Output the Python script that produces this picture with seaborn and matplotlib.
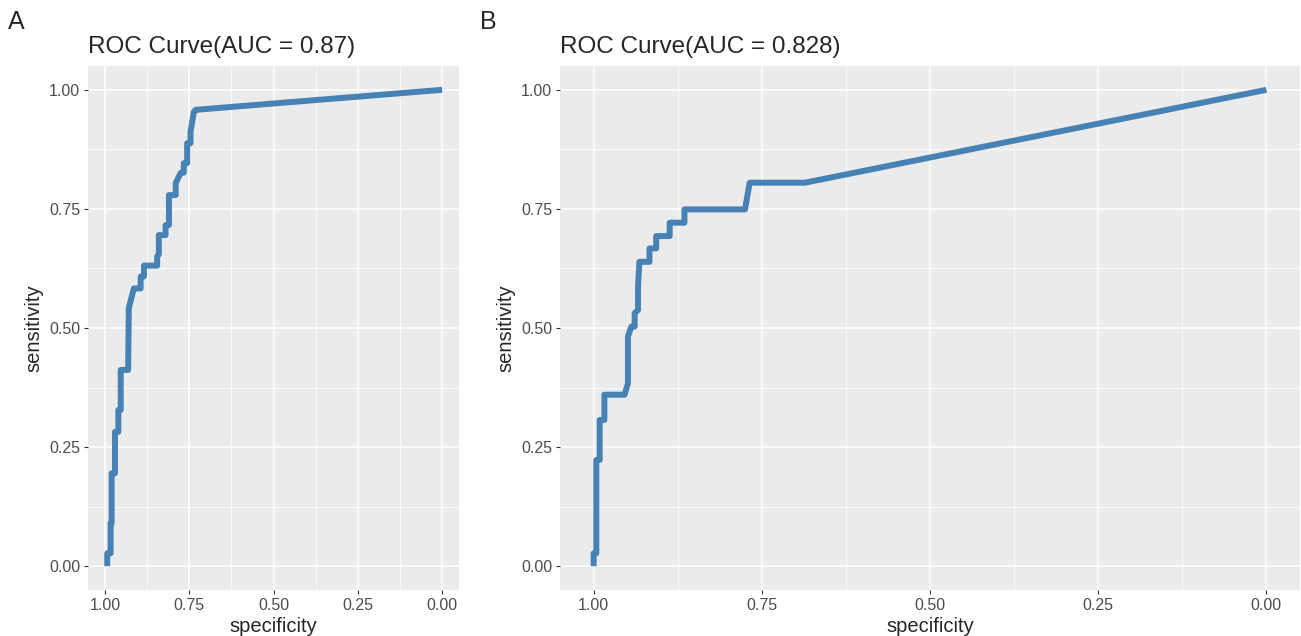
import matplotlib
matplotlib.use("Agg")
import matplotlib.pyplot as plt
from matplotlib.ticker import FixedLocator, FormatStrFormatter
import seaborn as sns
import pandas as pd

# ROC curve points (specificity, sensitivity)
spec_a = [0.993, 0.993, 0.983, 0.983, 0.980, 0.980, 0.970, 0.970, 0.960, 0.960,
          0.953, 0.953, 0.931, 0.929, 0.914, 0.894, 0.894, 0.884, 0.884, 0.845,
          0.845, 0.840, 0.840, 0.820, 0.820, 0.810, 0.810, 0.790, 0.790, 0.775,
          0.766, 0.766, 0.756, 0.756, 0.746, 0.746, 0.736, 0.731, 0.000]
sens_a = [0.000, 0.027, 0.027, 0.090, 0.090, 0.195, 0.195, 0.282, 0.282, 0.328,
          0.328, 0.412, 0.412, 0.542, 0.583, 0.583, 0.608, 0.608, 0.631, 0.631,
          0.650, 0.655, 0.695, 0.695, 0.716, 0.716, 0.779, 0.779, 0.804, 0.826,
          0.826, 0.846, 0.846, 0.888, 0.888, 0.912, 0.954, 0.958, 1.000]

spec_b = [1.000, 1.000, 0.996, 0.996, 0.991, 0.991, 0.984, 0.984, 0.954, 0.949,
          0.949, 0.944, 0.939, 0.939, 0.934, 0.934, 0.932, 0.917, 0.917, 0.907,
          0.907, 0.887, 0.887, 0.865, 0.865, 0.775, 0.768, 0.686, 0.000]
sens_b = [0.000, 0.027, 0.027, 0.223, 0.223, 0.307, 0.307, 0.360, 0.360, 0.384,
          0.482, 0.503, 0.503, 0.531, 0.538, 0.587, 0.639, 0.639, 0.667, 0.667,
          0.693, 0.693, 0.721, 0.721, 0.749, 0.749, 0.805, 0.805, 1.000]

titles = ["ROC Curve(AUC = 0.87)", "ROC Curve(AUC = 0.828)"]
panel_tags = ["A", "B"]
ticks = [1.00, 0.75, 0.50, 0.25, 0.00]

sns.set_theme(style="darkgrid", rc={
    "axes.facecolor": "#EBEBEB",
    "grid.color": "white",
    "figure.facecolor": "white",
})
plt.rcParams["font.family"] = ["Liberation Sans", "DejaVu Sans"]

fig = plt.figure(figsize=(13.01, 6.36), dpi=100)
W, H = 1301.0, 636.0
boxes = [(88, 459), (560, 1300)]
top, bottom = 66, 590

data = [(spec_a, sens_a), (spec_b, sens_b)]
for i, ((x0, x1), (sp, se)) in enumerate(zip(boxes, data)):
    ax = fig.add_axes([x0 / W, (H - bottom) / H, (x1 - x0) / W, (bottom - top) / H])
    df = pd.DataFrame({"specificity": sp, "sensitivity": se})
    sns.lineplot(data=df, x="specificity", y="sensitivity", sort=False,
                 estimator=None, color="#4682B4", lw=4.3, ax=ax,
                 solid_capstyle="butt", solid_joinstyle="round")
    ax.set_xlim(1.05, -0.05)
    ax.set_ylim(-0.05, 1.05)
    ax.xaxis.set_major_locator(FixedLocator(ticks))
    ax.yaxis.set_major_locator(FixedLocator(ticks))
    ax.xaxis.set_minor_locator(FixedLocator([0.875, 0.625, 0.375, 0.125]))
    ax.yaxis.set_minor_locator(FixedLocator([0.875, 0.625, 0.375, 0.125]))
    ax.xaxis.set_major_formatter(FormatStrFormatter("%.2f"))
    ax.yaxis.set_major_formatter(FormatStrFormatter("%.2f"))
    ax.grid(which="major", color="white", lw=1.1)
    ax.grid(which="minor", color="white", lw=0.55)
    ax.tick_params(which="major", length=3, width=0.8, color="#333333",
                   labelcolor="#4D4D4D", labelsize=11.5, pad=2.5,
                   bottom=True, left=True)
    ax.tick_params(which="minor", length=0)
    for s in ax.spines.values():
        s.set_visible(False)
    ax.set_xlabel("specificity", fontsize=14.5, labelpad=3)
    ax.set_ylabel("sensitivity", fontsize=14.5, labelpad=4)
    ax.set_title(titles[i], loc="left", fontsize=17.5, pad=9)
    fig.text((x0 - 80) / W, 1 - 22 / H, panel_tags[i], fontsize=18,
             ha="left", va="center")

fig.savefig("out.png", dpi=100)
